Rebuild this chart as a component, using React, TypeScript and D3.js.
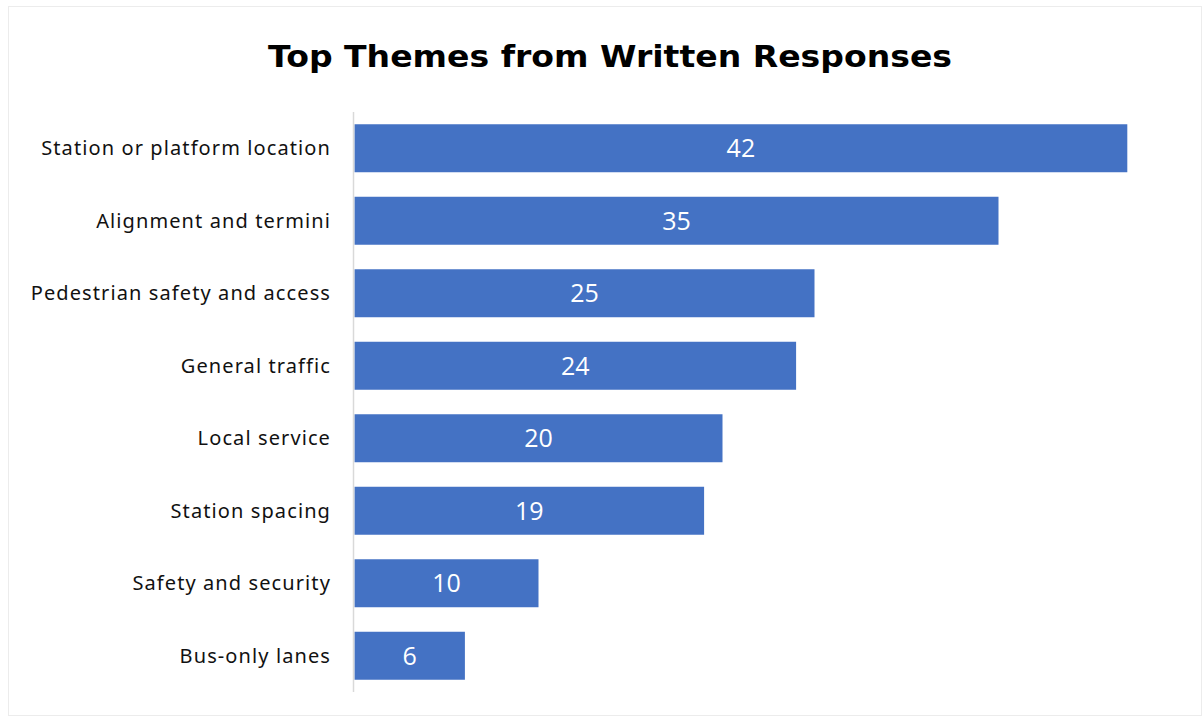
import React from "react";
import * as d3 from "d3";

const categories = [
  "Station or platform location",
  "Alignment and termini",
  "Pedestrian safety and access",
  "General traffic",
  "Local service",
  "Station spacing",
  "Safety and security",
  "Bus-only lanes",
];
const values = [42, 35, 25, 24, 20, 19, 10, 6];
const title = "Top Themes from Written Responses";

export default function App() {
  const W = 1202;
  const H = 716;
  const x0 = 354.5;
  const unit = 18.4;
  const x = d3.scaleLinear().domain([0, 45]).range([x0, x0 + 45 * unit]);
  const y = d3
    .scaleBand<string>()
    .domain(categories)
    .range([112, 692])
    .paddingInner(0.338)
    .paddingOuter(0.169);

  return (
    <svg
      width={W}
      height={H}
      style={{ position: "absolute", left: 0, top: 0 }}
    >
      <rect x={0} y={0} width={W} height={H} fill="#fff" />
      <rect
        x={8.5}
        y={6.5}
        width={1193}
        height={709}
        fill="#fff"
        stroke="#ececec"
        strokeWidth={1}
      />
      <text
        x={610}
        y={67}
        textAnchor="middle"
        fontFamily="'DejaVu Sans', sans-serif"
        fontWeight={700}
        fontSize={31}
        textLength={684}
        lengthAdjust="spacingAndGlyphs"
        fill="#000"
      >
        {title}
      </text>
      {categories.map((c, i) => (
        <g key={c}>
          <rect
            x={x(0)}
            y={y(c)!}
            width={x(values[i]) - x(0)}
            height={y.bandwidth()}
            fill="#4472c4"
          />
          <text
            x={(x(0) + x(values[i])) / 2}
            y={y(c)! + y.bandwidth() / 2}
            dy="0.36em"
            textAnchor="middle"
            fontFamily="'Open Sans', sans-serif"
            fontSize={25}
            fill="#fff"
          >
            {values[i]}
          </text>
          <text
            x={331}
            y={y(c)! + y.bandwidth() / 2}
            dy="0.36em"
            textAnchor="end"
            fontFamily="'Noto Sans', sans-serif"
            fontSize={20}
            letterSpacing={1.1}
            fill="#111"
          >
            {c}
          </text>
        </g>
      ))}
      <line
        x1={353.5}
        x2={353.5}
        y1={112}
        y2={692}
        stroke="#d9d9d9"
        strokeWidth={1.5}
      />
    </svg>
  );
}
